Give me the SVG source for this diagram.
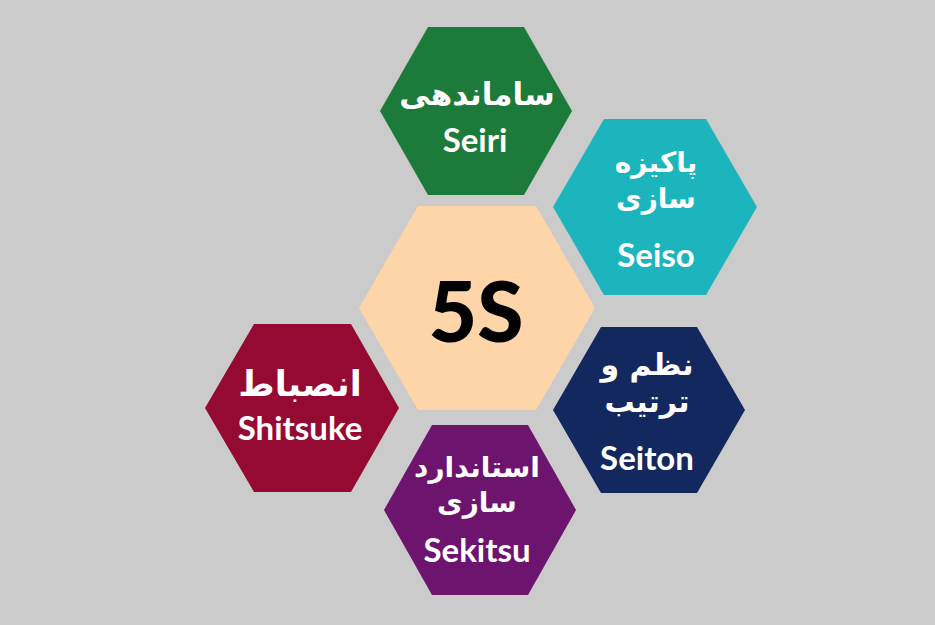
<svg xmlns="http://www.w3.org/2000/svg" width="935" height="625" viewBox="0 0 935 625">
<style>
.fa{font-family:"DejaVu Sans","Noto Sans",sans-serif;font-weight:bold;fill:#fff;text-anchor:middle;font-size:28px}
.en{font-family:Lato,"Open Sans",sans-serif;font-weight:bold;fill:#fff;text-anchor:middle;font-size:33px}
</style>
<rect width="935" height="625" fill="#cbcbcb"/>
<g id="center">
<polygon points="359,308 418,206 536,206 595,308 536,410 418,410" fill="#fdd5a8"/>
<text x="476" y="342" font-family="Lato,'Open Sans',sans-serif" font-weight="900" font-size="84" text-anchor="middle" fill="#000">5S</text>
</g>
<g id="seiri">
<polygon points="380,111 428,27 524,27 572,111 524,195 428,195" fill="#1c7a3b"/>
<text class="fa" x="477" y="105" direction="rtl" style="font-size:31px">ساماندهی</text>
<text class="en" x="475" y="152">Seiri</text>
</g>
<g id="seiso">
<polygon points="553,207 604,119 706,119 757,207 706,295 604,295" fill="#1db5bd"/>
<text class="fa" x="656" y="172" direction="rtl">پاکیزه</text>
<text class="fa" x="656" y="208" direction="rtl">سازی</text>
<text class="en" x="656" y="267">Seiso</text>
</g>
<g id="seiton">
<polygon points="553,410 601,327 697,327 745,410 697,493 601,493" fill="#13285e"/>
<text class="fa" x="647" y="375" direction="rtl" style="font-size:30px">نظم و</text>
<text class="fa" x="647" y="412" direction="rtl" style="font-size:30px">ترتیب</text>
<text class="en" x="647" y="470">Seiton</text>
</g>
<g id="sekitsu">
<polygon points="384,510 432,425 528,425 576,510 528,595 432,595" fill="#6d146f"/>
<text class="fa" x="477" y="477" direction="rtl">استاندارد</text>
<text class="fa" x="477" y="512" direction="rtl">سازی</text>
<text class="en" x="477" y="562">Sekitsu</text>
</g>
<g id="shitsuke">
<polygon points="205,408 254,324 351,324 399,408 351,492 254,492" fill="#950a33"/>
<text class="fa" x="300" y="396" direction="rtl" style="font-size:35px">انصباط</text>
<text class="en" x="300" y="440">Shitsuke</text>
</g>
<g id="connectors"/>
</svg>
